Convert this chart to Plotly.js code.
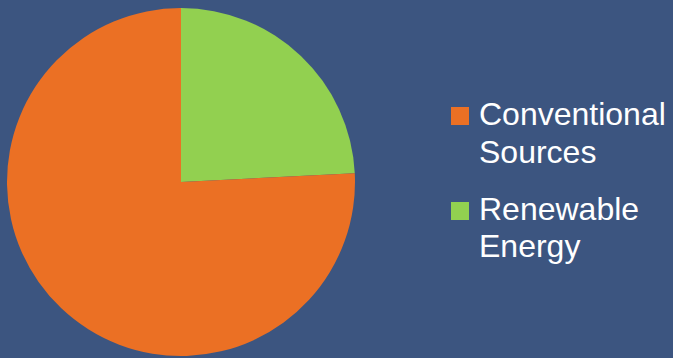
<!DOCTYPE html>
<html>
<head>
<meta charset="utf-8">
<script src="https://cdn.plot.ly/plotly-3.0.1.min.js"></script>
<style>html,body{margin:0;padding:0;background:#3C5580;}#chart{width:673px;height:358px;}</style>
</head>
<body>
<div id="chart"></div>
<script>
var labels = ["Conventional Sources", "Renewable Energy"];
var legendLines = [["Conventional", "Sources"], ["Renewable", "Energy"]];
var values = [75.8, 24.2];
var colors = ["#EB7024", "#92D050"];

var W = 673, H = 358;
// the pie starts with the renewable slice at 12 o'clock, going clockwise
var data = [{
  type: "pie",
  labels: labels.slice().reverse(),
  values: values.slice().reverse(),
  marker: {colors: colors.slice().reverse(), line: {width: 0}},
  sort: false,
  direction: "clockwise",
  rotation: 0,
  textinfo: "none",
  hoverinfo: "label+percent",
  domain: {x: [7/W, 355/W], y: [2/H, 350/H]}
}];

// manual legend (larger squares and spacing like the original)
var shapes = [], annotations = [];
var fontSize = 32;
var baselines = [[125, 163], [220, 257]];
for (var i = 0; i < labels.length; i++) {
  var sqCenter = baselines[i][0] - 9;
  shapes.push({
    type: "rect", xref: "paper", yref: "paper",
    x0: 451/W, x1: 469/W,
    y0: 1 - (sqCenter + 9)/H, y1: 1 - (sqCenter - 9)/H,
    fillcolor: colors[i], line: {width: 0}
  });
  for (var j = 0; j < legendLines[i].length; j++) {
    annotations.push({
      xref: "paper", yref: "paper",
      x: 478/W, xanchor: "left",
      y: 1 - (baselines[i][j] - 11)/H, yanchor: "middle",
      text: legendLines[i][j], showarrow: false,
      font: {family: "Liberation Sans, Arial, sans-serif", size: fontSize, color: "#FFFFFF"},
      borderpad: 0
    });
  }
}

var layout = {
  width: W, height: H,
  margin: {l: 0, r: 0, t: 0, b: 0},
  paper_bgcolor: "#3C5580",
  plot_bgcolor: "#3C5580",
  showlegend: false,
  shapes: shapes,
  annotations: annotations
};

Plotly.newPlot("chart", data, layout, {displayModeBar: false, staticPlot: true});
</script>
</body>
</html>
